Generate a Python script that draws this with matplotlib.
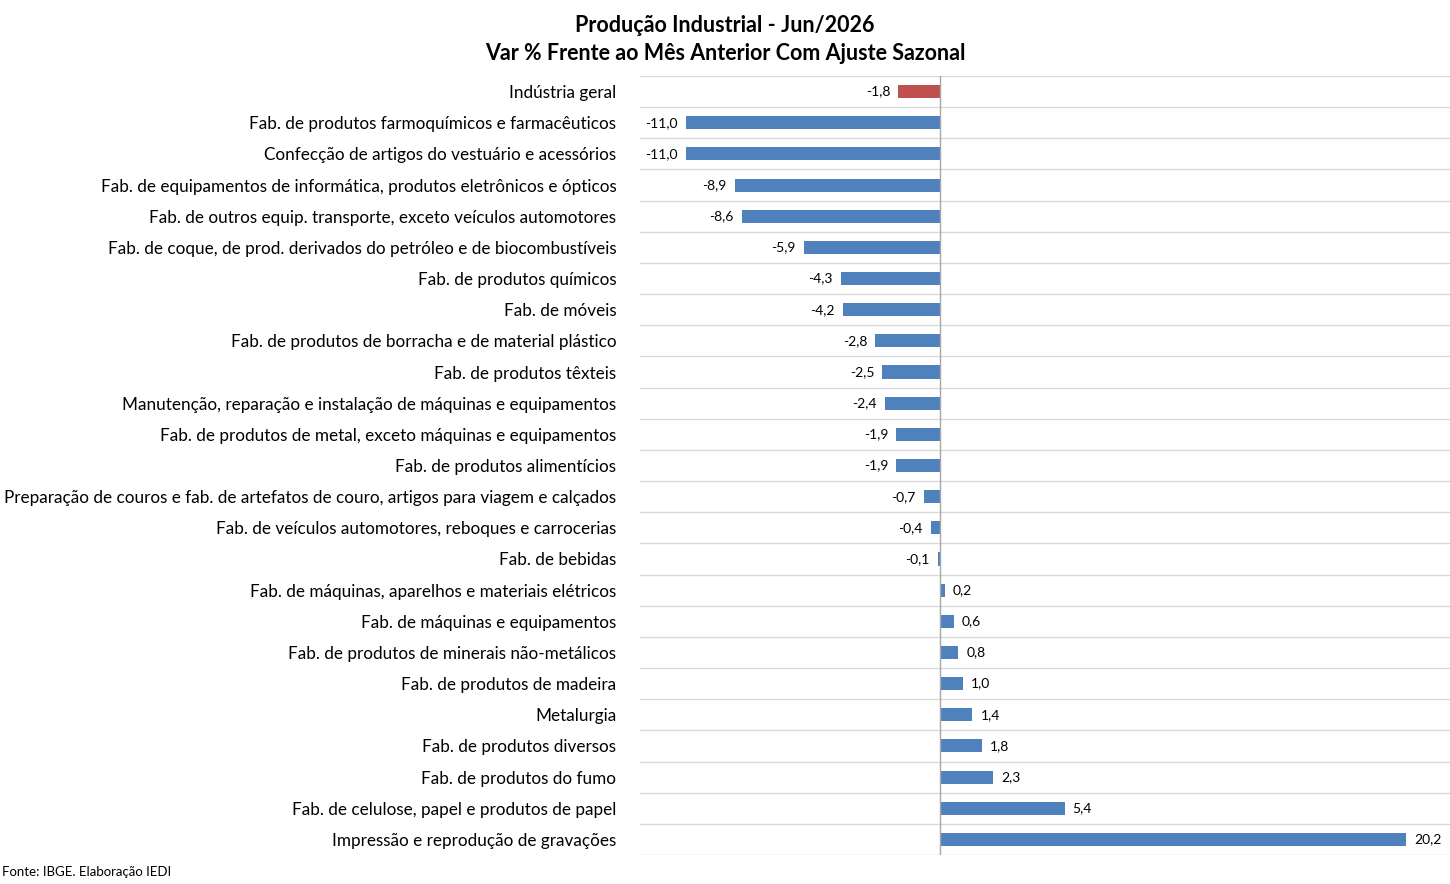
import matplotlib

matplotlib.use("Agg")
import matplotlib.pyplot as plt
import numpy as np

plt.rcParams["font.family"] = ["Lato", "DejaVu Sans"]

categories = [
    "Indústria geral",
    "Fab. de produtos farmoquímicos e farmacêuticos",
    "Confecção de artigos do vestuário e acessórios",
    "Fab. de equipamentos de informática, produtos eletrônicos e ópticos",
    "Fab. de outros equip. transporte, exceto veículos automotores",
    "Fab. de coque, de prod. derivados do petróleo e de biocombustíveis",
    "Fab. de produtos químicos",
    "Fab. de móveis",
    "Fab. de produtos de borracha e de material plástico",
    "Fab. de produtos têxteis",
    "Manutenção, reparação e instalação de máquinas e equipamentos",
    "Fab. de produtos de metal, exceto máquinas e equipamentos",
    "Fab. de produtos alimentícios",
    "Preparação de couros e fab. de artefatos de couro, artigos para viagem e calçados",
    "Fab. de veículos automotores, reboques e carrocerias",
    "Fab. de bebidas",
    "Fab. de máquinas, aparelhos e materiais elétricos",
    "Fab. de máquinas e equipamentos",
    "Fab. de produtos de minerais não-metálicos",
    "Fab. de produtos de madeira",
    "Metalurgia",
    "Fab. de produtos diversos",
    "Fab. de produtos do fumo",
    "Fab. de celulose, papel e produtos de papel",
    "Impressão e reprodução de gravações",
]
values = [-1.8, -11.0, -11.0, -8.9, -8.6, -5.9, -4.3, -4.2, -2.8, -2.5, -2.4,
          -1.9, -1.9, -0.7, -0.4, -0.1, 0.2, 0.6, 0.8, 1.0, 1.4, 1.8, 2.3, 5.4, 20.2]

fig = plt.figure(figsize=(14.5, 8.84), dpi=100)
ax = fig.add_axes([640 / 1450, 29 / 884, 810 / 1450, 779 / 884])

y = np.arange(len(categories))
colors = ["#C0504D" if i == 0 else "#4F81BD" for i in range(len(categories))]
ax.barh(y, values, height=0.42, color=colors)
ax.set_ylim(len(categories) - 0.5, -0.5)
ax.set_xlim(-13.0, 22.1)

for yi, v in zip(y, values):
    txt = f"{v:.1f}".replace(".", ",")
    off = 0.35
    ax.text(v + off if v >= 0 else v - off, yi, txt, va="center",
            ha="left" if v >= 0 else "right", fontsize=10)

for b in np.arange(-0.5, len(categories), 1):
    ax.axhline(b, color="#D9D9D9", lw=1, zorder=0)
ax.axvline(0, color="#A6A6A6", lw=1)

ax.set_yticks(y)
ax.set_yticklabels(categories, fontsize=12.3)
ax.tick_params(axis="y", length=0, pad=17)
ax.set_xticks([])
for s in ax.spines.values():
    s.set_visible(False)

fig.text(0.5, 1 - 25 / 884, "Produção Industrial - Jun/2026", ha="center", va="center",
         fontsize=15.5, fontweight="bold")
fig.text(0.5, 1 - 54 / 884, "Var % Frente ao Mês Anterior Com Ajuste Sazonal", ha="center",
         va="center", fontsize=15.5, fontweight="bold")
fig.text(2 / 1450, 1 - 872 / 884, "Fonte: IBGE. Elaboração IEDI", ha="left", va="center", fontsize=9.5)

fig.savefig("out.png", dpi=100)
